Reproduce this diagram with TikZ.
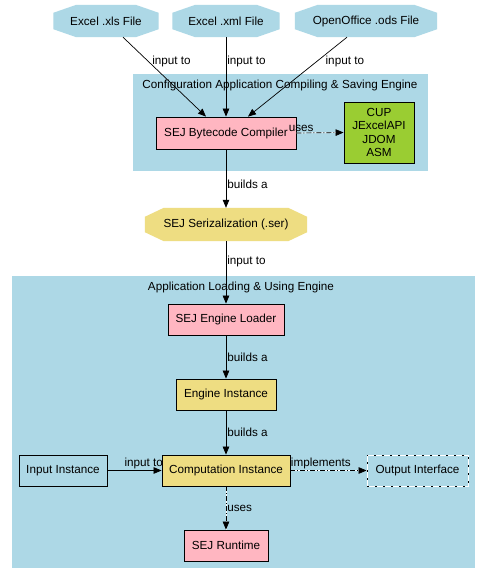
\documentclass[tikz,border=0pt]{standalone}
\usepackage{fontspec}
\setmainfont{Liberation Sans}
\usetikzlibrary{arrows.meta,calc}
\definecolor{clusterblue}{HTML}{ADD8E6}
\definecolor{boxpink}{HTML}{FFB6C1}
\definecolor{boxgold}{HTML}{EEDD82}
\definecolor{boxgreen}{HTML}{9ACD32}
\tikzset{
  every node/.style={font=\fontsize{11.7}{13.5}\selectfont, inner sep=0pt},
  plainbox/.style={draw=black, line width=0.8pt},
  cluster/.style={fill=clusterblue, draw=none},
  arr/.style={-{Triangle[length=8pt,width=6.5pt]}, line width=0.7pt},
  dotarr/.style={arr, dash pattern=on 5pt off 2pt on 1pt off 2pt,
    preaction={draw=white, line width=0.7pt, -}},
  lbl/.style={inner sep=1pt},
}
% octagon around the node #1: colour #2, horizontal cut #3, vertical cut #4
\newcommand\octofill[4]{%
  \fill[#2] ($(#1.north west)+(#3,0)$) -- ($(#1.north east)+(-#3,0)$)
    -- ($(#1.north east)+(0,#4)$) -- ($(#1.south east)+(0,-#4)$)
    -- ($(#1.south east)+(-#3,0)$) -- ($(#1.south west)+(#3,0)$)
    -- ($(#1.south west)+(0,-#4)$) -- ($(#1.north west)+(0,#4)$) -- cycle;}
\begin{document}
\begin{tikzpicture}[x=1pt, y=-1pt]
\useasboundingbox (0,0) rectangle (486,587);
\fill[white] (0,0) rectangle (486,587);

% clusters
\fill[cluster] (133,74) rectangle (428,171);
\node (ctitle) at (280,85) {Configuration Application Compiling \& Saving Engine};
\fill[cluster] (12,276) rectangle (475,568);
\node (atitle) at (241,287) {Application Loading \& Using Engine};

% source files: size holders first, octagons filled, then the labels on top
\path (106,21) node[minimum width=105pt, minimum height=32pt] (xls) {}
      (226,21) node[minimum width=107pt, minimum height=32pt] (xml) {}
      (366,21) node[minimum width=142pt, minimum height=32pt] (ods) {}
      (226,224.5) node[minimum width=162pt, minimum height=33pt] (ser) {};
\octofill{xls}{clusterblue}{23}{8}
\octofill{xml}{clusterblue}{23}{8}
\octofill{ods}{clusterblue}{23}{8}
\octofill{ser}{boxgold}{19}{9}
\node (xlstext) at (xls) {Excel .xls File};
\node (xmltext) at (xml) {Excel .xml File};
\node (odstext) at (ods) {OpenOffice .ods File};
\node (sertext) at (ser) {SEJ Serizalization (.ser)};

% compiling engine
\node[plainbox, fill=boxpink, minimum width=140pt, minimum height=32pt] (comp) at (226,133) {SEJ Bytecode Compiler};
\node[plainbox, fill=boxgreen, minimum width=70pt, minimum height=61pt, align=center] (libs) at (379,132.5) {CUP\\JExcelAPI\\JDOM\\ASM};

% loading engine
\node[plainbox, fill=boxpink, minimum width=116pt, minimum height=31pt] (loader) at (226,319.5) {SEJ Engine Loader};
\node[plainbox, fill=boxgold, minimum width=100pt, minimum height=31pt] (engine) at (226,394.5) {Engine Instance};
\node[plainbox, fill=boxgold, minimum width=128pt, minimum height=31pt] (compinst) at (226,470.5) {Computation Instance};
\node[plainbox, fill=clusterblue, minimum width=88pt, minimum height=31pt] (input) at (63,470.5) {Input Instance};
\node[minimum width=101pt, minimum height=31pt, draw=white, line width=0.8pt,
      postaction={draw=black, line width=0.8pt, dash pattern=on 2pt off 6pt}] (output) at (417.5,470.5) {Output Interface};
\node[plainbox, fill=boxpink, minimum width=84pt, minimum height=31pt] (runtime) at (226,545.5) {SEJ Runtime};

% connectors
\draw[arr] ([xshift=17pt]xls.south) -- node[lbl, pos=0.3, right=3pt] {input to} ([xshift=-20pt]comp.north);
\draw[arr] (xml.south) -- node[lbl, pos=0.3, right] {input to} (comp.north);
\draw[arr] ([xshift=-19pt]ods.south) -- node[lbl, pos=0.3, right=7pt] {input to} ([xshift=22pt]comp.north);
\draw[dotarr] (comp.east) -- node[lbl, pos=0.1, above] {uses} (libs.west);
\draw[arr] (comp.south) -- node[lbl, pos=0.6, right] {builds a} (ser.north);
\draw[arr] (ser.south) -- node[lbl, pos=0.33, right] {input to} (loader.north);
\draw[arr] (loader.south) -- node[lbl, pos=0.5, right] {builds a} (engine.north);
\draw[arr] (engine.south) -- node[lbl, pos=0.5, right] {builds a} (compinst.north);
\draw[arr] (input.east) -- node[lbl, pos=0.67, above] {input to} (compinst.west);
\draw[dotarr] (compinst.east) -- node[lbl, pos=0.4, above] {implements} (output.west);
\draw[dotarr] (compinst.south) -- node[lbl, pos=0.5, right] {uses} (runtime.north);
\end{tikzpicture}
\end{document}
